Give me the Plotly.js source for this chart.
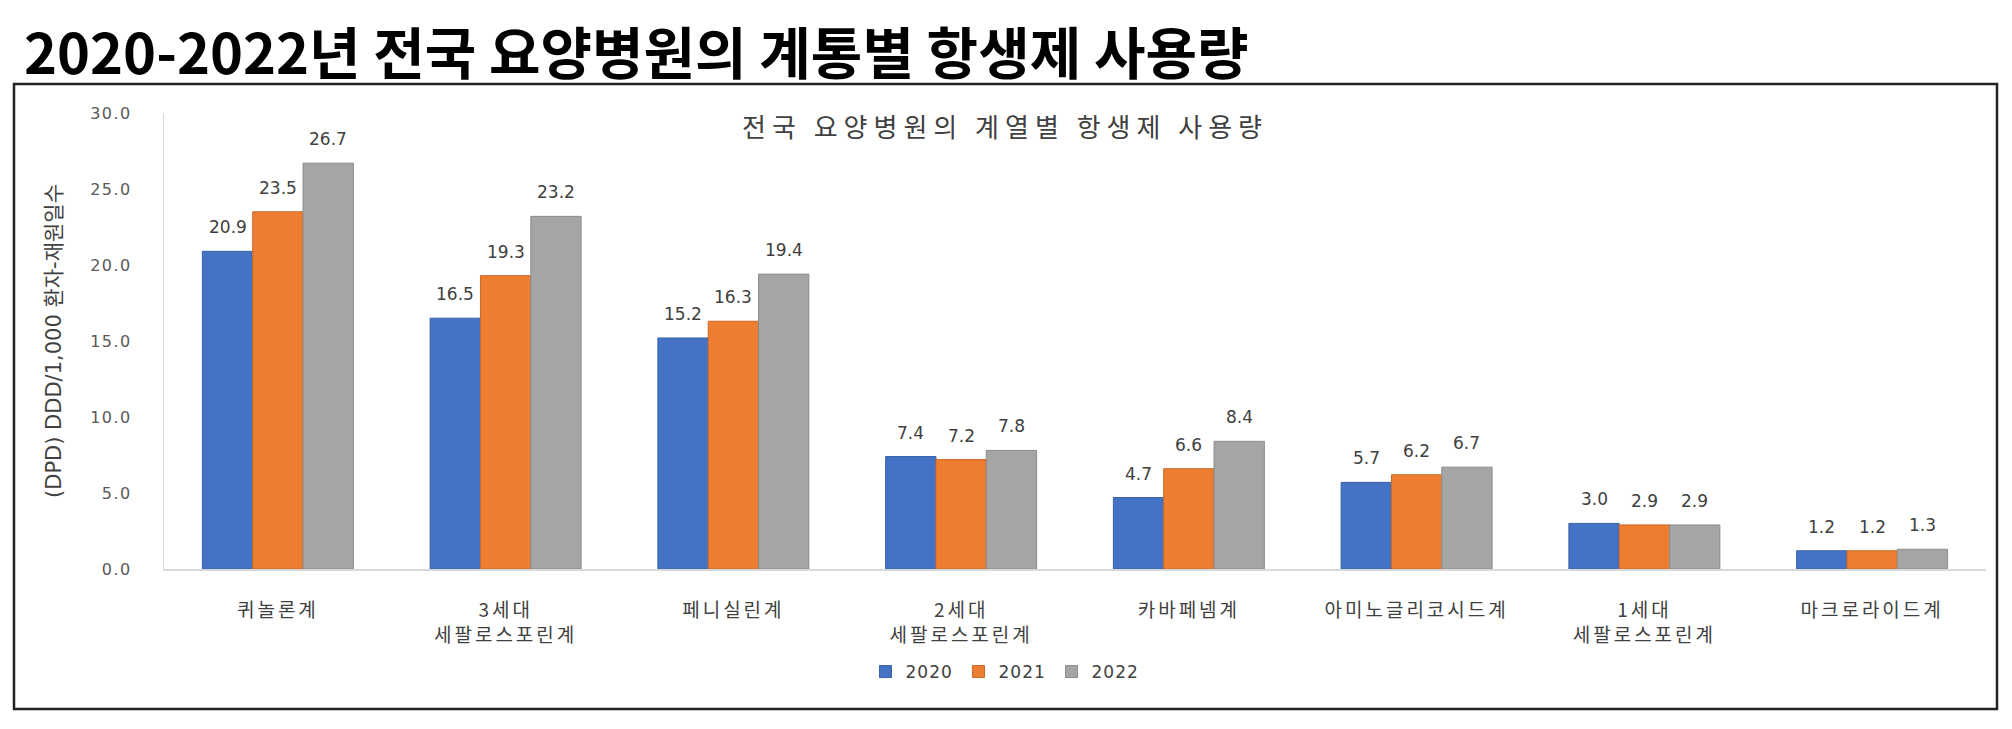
<!DOCTYPE html>
<html>
<head>
<meta charset="utf-8">
<script src="https://cdn.plot.ly/plotly-3.0.1.min.js"></script>
<style>
  html, body { margin: 0; padding: 0; background: #ffffff; }
  #chart { width: 2012px; height: 729px; }
  .xtick text { letter-spacing: 3px; }
  .ytick text { letter-spacing: 1.5px; }
  .legendtext { letter-spacing: 1px; }
  .gtitle { letter-spacing: 6px; }
</style>
</head>
<body>
<div id="chart"></div>
<script>
// ---- data ----
const categories = ['퀴놀론계', '3세대<br>세팔로스포린계', '페니실린계', '2세대<br>세팔로스포린계',
                    '카바페넴계', '아미노글리코시드계', '1세대<br>세팔로스포린계', '마크로라이드계'];
const years = ['2020', '2021', '2022'];
const values2020 = [20.9, 16.5, 15.2, 7.4, 4.7, 5.7, 3.0, 1.2];
const values2021 = [23.5, 19.3, 16.3, 7.2, 6.6, 6.2, 2.9, 1.2];
const values2022 = [26.7, 23.2, 19.4, 7.8, 8.4, 6.7, 2.9, 1.3];
const yTickValues = [0, 5, 10, 15, 20, 25, 30];
const headingText = '2020-2022년 전국 요양병원의 계통별 항생제 사용량';
const chartTitleText = '전국 요양병원의 계열별 항생제 사용량';
const yAxisTitleText = '(DPD) DDD/1,000 환자-재원일수';

// ---- styling ----
const W = 2012, H = 729;
const M = { l: 164, r: 26, t: 113, b: 160 };
const plotW = W - M.l - M.r, plotH = H - M.t - M.b;
const px2x = p => (p - M.l) / plotW;
const py2y = p => (H - M.b - p) / plotH;
const colors = ['#4472C4', '#ED7D31', '#A5A5A5'];
const lineColors = ['#3A62A8', '#C96A29', '#8C8C8C'];
const series = [values2020, values2021, values2022];
const bargap = 0.337;
const barPx = plotW / categories.length * (1 - bargap) / series.length;
const numFont = 'DejaVu Sans, Noto Sans CJK KR, sans-serif';
const krFont = 'Noto Sans CJK KR, sans-serif';

const traces = series.map((vals, i) => ({
  type: 'bar',
  name: years[i],
  x: categories,
  y: vals,
  marker: { color: colors[i], line: { color: lineColors[i], width: 1 } },
  hoverinfo: 'x+y+name'
}));

const annotations = [];
series.forEach((vals, i) => {
  vals.forEach((v, j) => {
    annotations.push({
      x: categories[j], y: v, xref: 'x', yref: 'y',
      text: v.toFixed(1), showarrow: false,
      xshift: (i - 1) * barPx, yshift: 24,
      font: { family: numFont, size: 17, color: '#404040' }
    });
  });
});
annotations.push({
  x: px2x(22), y: py2y(49), xref: 'paper', yref: 'paper',
  xanchor: 'left', yanchor: 'middle', showarrow: false,
  text: headingText,
  font: { family: krFont, size: 56, color: '#000000', weight: 'bold' }
});

const layout = {
  width: W, height: H,
  margin: M,
  paper_bgcolor: '#ffffff', plot_bgcolor: '#ffffff',
  showlegend: true,
  barmode: 'group', bargap: bargap, bargroupgap: 0,
  title: {
    text: chartTitleText,
    x: px2x(1005), xref: 'paper', xanchor: 'center',
    y: 1 - 128 / H, yref: 'container', yanchor: 'middle',
    font: { family: krFont, size: 26, color: '#404040' }
  },
  xaxis: {
    type: 'category',
    showline: true, linecolor: '#D9D9D9', linewidth: 2,
    ticks: 'outside', ticklen: 23, tickcolor: 'rgba(0,0,0,0)',
    tickfont: { family: krFont, size: 19, color: '#404040' },
    showgrid: false, zeroline: false, fixedrange: true
  },
  yaxis: {
    range: [0, 30], tickvals: yTickValues, tickformat: '.1f',
    showline: true, linecolor: '#D9D9D9', linewidth: 1,
    ticks: 'outside', ticklen: 28, tickcolor: 'rgba(0,0,0,0)',
    tickfont: { family: numFont, size: 16, color: '#595959' },
    showgrid: false, zeroline: false, fixedrange: true,
    title: { text: yAxisTitleText, standoff: 22,
             font: { family: numFont, size: 21, color: '#404040' } }
  },
  legend: {
    orientation: 'h', x: px2x(1005), xanchor: 'center',
    y: py2y(672), yanchor: 'middle',
    itemwidth: 30, entrywidth: 48, entrywidthmode: 'pixels',
    font: { family: numFont, size: 17, color: '#404040' },
    itemclick: false, itemdoubleclick: false
  },
  shapes: [{
    type: 'rect', xref: 'paper', yref: 'paper',
    x0: px2x(14), x1: px2x(1997), y0: py2y(709), y1: py2y(84),
    line: { color: '#222222', width: 2.5 }, fillcolor: 'rgba(0,0,0,0)', layer: 'below'
  }],
  annotations: annotations
};

Plotly.newPlot('chart', traces, layout, { displayModeBar: false, responsive: false });
</script>
</body>
</html>
